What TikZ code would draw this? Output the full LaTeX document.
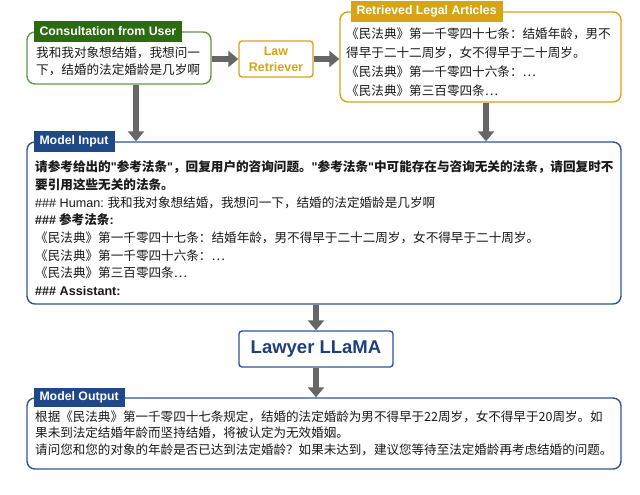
\documentclass[tikz,border=0pt]{standalone}
\usepackage{fontspec}
\setmainfont{Noto Sans CJK SC}
\newfontfamily\latfont{Liberation Sans}
\usetikzlibrary{arrows.meta}
\definecolor{grtab}{HTML}{2E6A12}
\definecolor{grline}{HTML}{5F9A45}
\definecolor{gold}{HTML}{D6A515}
\definecolor{bltab}{HTML}{1E4886}
\definecolor{blline}{HTML}{2A5597}
\definecolor{lltext}{HTML}{1F3F7A}
\definecolor{arrgray}{HTML}{666666}
\definecolor{ink}{HTML}{1A1A1A}
\newcommand\qq{{\latfont"}}
\begin{document}
\begin{tikzpicture}[x=1pt,y=-1pt,
 box/.style={draw, line width=1.4pt, rounded corners=8pt, inner sep=0pt},
 tab/.style={fill, text=white, font=\latfont\bfseries\fontsize{12.3}{14}\selectfont, inner xsep=6pt, inner ysep=0pt, minimum height=21pt, anchor=west},
 ln/.style={anchor=base west, inner sep=0pt, text=ink, font=\fontsize{12.6}{15}\selectfont},
 lnb/.style={ln, font=\bfseries\fontsize{12.6}{15}\selectfont},
 lno/.style={ln, font=\fontsize{12.55}{15}\selectfont},
 bigarrow/.style={draw=arrgray, line width=6.5pt, -{Triangle[length=10pt,width=16pt]}}
]
\useasboundingbox (0,0) rectangle (640,495);
\fill[white] (0,0) rectangle (640,495);

% Consultation box
\node[box, draw=grline, minimum width=184pt, minimum height=52pt] (consult) at (119,58) {};
\node[tab, fill=grtab] (consultT) at ([xshift=7pt]consult.north west) {Consultation from User};
\node[ln] (c1) at (36,57.5) {我和我对象想结婚，我想问一};
\node[ln] (c2) at (36,74.5) {下，结婚的法定婚龄是几岁啊};

% Law retriever
\node[box, draw=gold, rounded corners=3pt, minimum width=74pt, minimum height=36pt, text=gold, font=\latfont\bfseries\fontsize{12.5}{16}\selectfont, align=center] (lawret) at (276,59) {Law\\Retriever};

% Retrieved legal articles
\node[box, draw=gold, minimum width=281pt, minimum height=90pt] (retr) at (480.5,57) {};
\node[tab, fill=gold] (retrT) at ([xshift=11pt]retr.north west) {Retrieved Legal Articles};
\node[ln] (r1) at (346,38.5) {《民法典》第一千零四十七条：结婚年龄，男不};
\node[ln] (r2) at (346,57.5) {得早于二十二周岁，女不得早于二十周岁。};
\node[ln] (r3) at (346,76.5) {《民法典》第一千零四十六条：…};
\node[ln] (r4) at (346,95.5) {《民法典》第三百零四条…};

% Model input
\node[box, draw=blline, minimum width=594pt, minimum height=162pt] (input) at (324,223) {};
\node[tab, fill=bltab] (inputT) at ([xshift=7pt]input.north west) {Model Input};
\node[lnb] (i1) at (35,171.7) {请参考给出的\qq 参考法条\qq ，回复用户的咨询问题。\qq 参考法条\qq 中可能存在与咨询无关的法条，请回复时不};
\node[lnb] (i2) at (35,189.4) {要引用这些无关的法条。};
\node[ln] (i3) at (35,207.1) {{\latfont\#\#\# Human:} 我和我对象想结婚，我想问一下，结婚的法定婚龄是几岁啊};
\node[lnb] (i4) at (35,224.8) {{\latfont\#\#\#} 参考法条{\latfont :}};
\node[ln] (i5) at (35,242.5) {《民法典》第一千零四十七条：结婚年龄，男不得早于二十二周岁，女不得早于二十周岁。};
\node[ln] (i6) at (35,260.2) {《民法典》第一千零四十六条：…};
\node[ln] (i7) at (35,277.9) {《民法典》第三百零四条…};
\node[ln, font=\latfont\bfseries\fontsize{12.6}{15}\selectfont] (i8) at (35,295.6) {\#\#\# Assistant:};

% Lawyer LLaMA
\node[box, draw=blline, rounded corners=3pt, minimum width=154pt, minimum height=36pt, text=lltext, font=\latfont\bfseries\fontsize{18.5}{20}\selectfont] (llama) at (316,349) {Lawyer LLaMA};

% Model output
\node[box, draw=blline, minimum width=594pt, minimum height=71pt] (output) at (324,433.5) {};
\node[tab, fill=bltab, minimum height=19pt] (outputT) at ([xshift=7pt]output.north west) {Model Output};
\node[lno] (o1) at (35,421.7) {根据《民法典》第一千零四十七条规定，结婚的法定婚龄为男不得早于22周岁，女不得早于20周岁。如};
\node[lno] (o2) at (35,437.9) {果未到法定结婚年龄而坚持结婚，将被认定为无效婚姻。};
\node[lno] (o3) at (35,454.2) {请问您和您的对象的年龄是否已达到法定婚龄？如果未达到，建议您等待至法定婚龄再考虑结婚的问题。};

% Arrows
\draw[bigarrow] (consult.east |- lawret.west) -- (lawret.west);
\draw[bigarrow] (lawret.east) -- (lawret.east -| retr.west);
\draw[bigarrow] ([xshift=17pt]consult.south) -- ([xshift=17pt]consult.south |- input.north);
\draw[bigarrow] ([xshift=5.5pt]retr.south) -- ([xshift=5.5pt]retr.south |- input.north);
\draw[bigarrow] (llama.north |- input.south) -- (llama.north);
\draw[bigarrow] (llama.south) -- (llama.south |- output.north);
\end{tikzpicture}
\end{document}
